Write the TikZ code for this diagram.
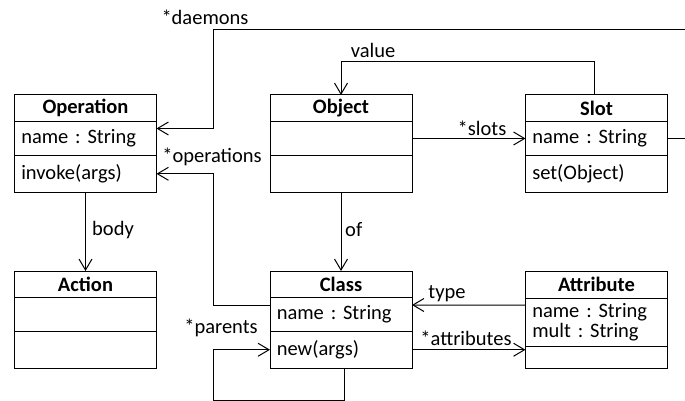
\documentclass[tikz,border=0pt]{standalone}
\usepackage{fontspec}
\setmainfont{Carlito}
\usetikzlibrary{arrows.meta}
\frenchspacing
\newcommand\ft{\fontsize{20.5pt}{20pt}\selectfont}
\begin{document}
\begin{tikzpicture}[x=1pt,y=-1pt,
  box/.style={draw, line width=1pt, anchor=north west, minimum width=142pt, inner sep=0pt, outer sep=0pt, font=\ft},
  hdr/.style={box, text width=142pt, align=center, font=\ft\bfseries},
  cmp/.style={box, text width=128.5pt, inner xsep=6.75pt, align=left},
  assoc/.style={line width=1pt, -{Straight Barb[length=11pt,width=13pt,line width=1pt]}},
  lbl/.style={font=\ft, inner sep=0pt}]
\useasboundingbox (0,0) rectangle (685,401);
% Operation
\node[hdr, minimum height=26.7pt] (opH) at (14.5,95) {Operation};
\node[cmp, minimum height=33.6pt] (opA) at (14.5,121.7) {name : String};
\node[cmp, minimum height=37pt] (opO) at (14.5,155.3) {invoke(args)};
% Object
\node[hdr, minimum height=26.7pt] (obH) at (270,95) {Object};
\node[cmp, minimum height=33.6pt] (obA) at (270,121.7) {};
\node[cmp, minimum height=37pt] (obO) at (270,155.3) {};
% Slot
\node[hdr, minimum height=26.7pt] (slH) at (525.5,95) {Slot};
\node[cmp, minimum height=33.6pt] (slA) at (525.5,121.7) {name : String};
\node[cmp, minimum height=37pt] (slO) at (525.5,155.3) {set(Object)};
% Action
\node[hdr, minimum height=26.7pt] (acH) at (14.5,271) {Action};
\node[cmp, minimum height=33.8pt] (acA) at (14.5,297.7) {};
\node[cmp, minimum height=36.5pt] (acO) at (14.5,331.5) {};
% Class
\node[hdr, minimum height=26.7pt] (clH) at (270,271) {Class};
\node[cmp, minimum height=33.8pt] (clA) at (270,297.7) {name : String};
\node[cmp, minimum height=36.5pt] (clO) at (270,331.5) {new(args)};
% Attribute
\node[hdr, minimum height=27pt] (atH) at (525.5,271) {Attribute};
\node[cmp, minimum height=48.7pt] (atA) at (525.5,298) {name : String\\mult : String};
\node[cmp, minimum height=21.3pt] (atO) at (525.5,346.7) {};
% connectors
\coordinate (dR) at (700,29.3);
\coordinate (dL) at (213.3,29.3);
\draw[assoc] (slA.east) -| (dR) -- (dL) |- ([yshift=10pt]opA.east);
\node[lbl] (lDaemons) at (205,17) {*daemons};
\draw[assoc] ([xshift=-2.5pt]slH.north) -- ++(0,-33.3) -| (obH.north);
\node[lbl] (lValue) at (373,50) {value};
\draw[assoc] (obA.east) -- (slA.west);
\node[lbl] (lSlots) at (482,128) {*slots};
\coordinate (opBend) at (213.3,240);
\draw[assoc] ([yshift=9pt]clA.west) -| (opBend) |- (opO.east);
\node[lbl] (lOps) at (212,157) {*operations};
\draw[assoc] (opO.south) -- (acH.north);
\node[lbl, anchor=west] (lBody) at (92,230) {body};
\draw[assoc] (obO.south) -- (clH.north);
\node[lbl, anchor=west] (lOf) at (345,230) {of};
\draw[assoc] ([yshift=17.3pt]atA.west) -- ([yshift=9.6pt]clA.east);
\node[lbl] (lType) at (447,294) {type};
\draw[assoc] (clO.east) -- (clO.east -| atO.west);
\node[lbl] (lAttrs) at (466,338) {*attributes};
\coordinate (pB) at (213.3,400);
\draw[assoc] ([xshift=3.3pt]clO.south) |- (pB) |- (clO.west);
\node[lbl] (lParents) at (221,328) {*parents};
\end{tikzpicture}
\end{document}
